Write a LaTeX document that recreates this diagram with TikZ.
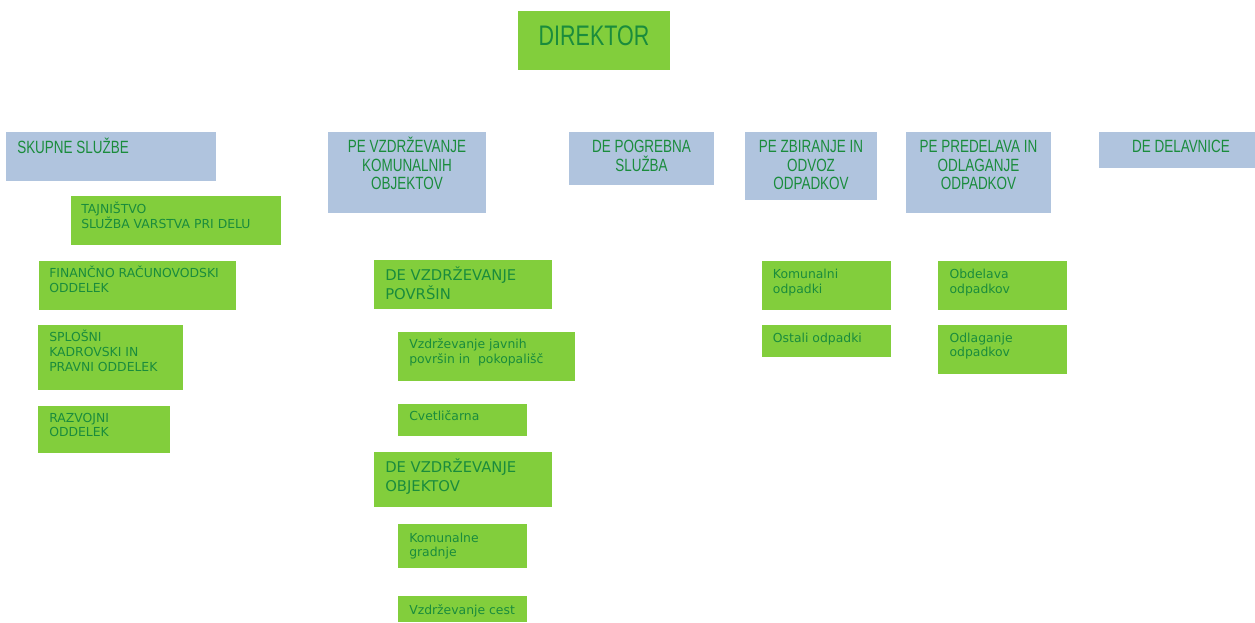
\documentclass[tikz,border=0pt]{standalone}
\usepackage{fontspec}
\setmainfont{DejaVu Sans}
\newfontfamily\headfont[FakeStretch=0.76]{Liberation Sans}
\definecolor{boxgreen}{RGB}{130,206,60}
\definecolor{boxblue}{RGB}{176,196,222}
\definecolor{textgreen}{RGB}{26,140,60}
\tikzset{
  unitbox/.style={fill=boxblue, draw=none},
  deptbox/.style={fill=boxgreen, draw=none},
  headtext/.style={text=textgreen, inner sep=0pt, align=center, font=\headfont\fontsize{13.3}{14.1}\selectfont},
  toptext/.style={text=textgreen, inner sep=0pt, font=\headfont\fontsize{21.2}{22}\selectfont},
  midtext/.style={text=textgreen, inner sep=0pt, align=left, font=\fontsize{11.1}{14.25}\selectfont},
  smalltext/.style={text=textgreen, inner sep=0pt, align=left, font=\fontsize{9.3}{10.9}\selectfont}
}
\begin{document}
\begin{tikzpicture}[x=0.75pt,y=0.75pt,yscale=-1,xscale=1]
\useasboundingbox (0,0) rectangle (1255,622);

%Shape: Rectangle
\draw [deptbox] (518,11) rectangle (670,70);
%Shape: Rectangle
\draw [unitbox] (6,132) rectangle (216,181);
\draw [unitbox] (328,132) rectangle (486,213);
\draw [unitbox] (569,132) rectangle (714,185);
\draw [unitbox] (745,132) rectangle (877,200);
\draw [unitbox] (906,132) rectangle (1051,213);
\draw [unitbox] (1099,132) rectangle (1255,168);
%Shape: Rectangle
\draw [deptbox] (71,196) rectangle (281,245);
\draw [deptbox] (39,261) rectangle (236,310);
\draw [deptbox] (38,325) rectangle (183,390);
\draw [deptbox] (38,406) rectangle (170,453);
%Shape: Rectangle
\draw [deptbox] (374,260) rectangle (552,309);
\draw [deptbox] (398,332) rectangle (575,381);
\draw [deptbox] (398,404) rectangle (527,436);
\draw [deptbox] (374,452) rectangle (552,507);
\draw [deptbox] (398,524) rectangle (527,568);
\draw [deptbox] (398,596) rectangle (527,622);
%Shape: Rectangle
\draw [deptbox] (762,261) rectangle (891,310);
\draw [deptbox] (762,325) rectangle (891,357);
\draw [deptbox] (938,261) rectangle (1067,310);
\draw [deptbox] (938,325) rectangle (1067,374);

% Text Node (base = last line)
\draw (594,45) node [anchor=base][toptext] (direktor) {DIREKTOR};
% Text Node
\draw (17,153.5) node [anchor=base west][headtext] (skupne) {SKUPNE SLUŽBE};
\draw (407,189.9) node [anchor=base][headtext] (pekom) {PE VZDRŽEVANJE\\KOMUNALNIH\\OBJEKTOV};
\draw (641.5,171.1) node [anchor=base][headtext] (pogreb) {DE POGREBNA\\SLUŽBA};
\draw (811,189.9) node [anchor=base][headtext] (zbiranje) {PE ZBIRANJE IN\\ODVOZ\\ODPADKOV};
\draw (978.5,189.9) node [anchor=base][headtext] (predelava) {PE PREDELAVA IN\\ODLAGANJE\\ODPADKOV};
\draw (1181,152.3) node [anchor=base][headtext] (delavnice) {DE DELAVNICE};
% Text Node
\draw (81,228.5) node [anchor=base west][smalltext] (tajnistvo) {TAJNIŠTVO\\SLUŽBA VARSTVA PRI DELU};
\draw (49,292.5) node [anchor=base west][smalltext] (financno) {FINANČNO RAČUNOVODSKI\\ODDELEK};
\draw (49,371) node [anchor=base west][smalltext] (splosni) {SPLOŠNI\\KADROVSKI IN\\PRAVNI ODDELEK};
\draw (49,436.8) node [anchor=base west][smalltext] (razvojni) {RAZVOJNI\\ODDELEK};
% Text Node
\draw (385,299) node [anchor=base west][midtext] (povrsin) {DE VZDRŽEVANJE\\POVRŠIN};
\draw (409,363.5) node [anchor=base west][smalltext] (javnih) {Vzdrževanje javnih\\površin in~~pokopališč};
\draw (409,420.7) node [anchor=base west][smalltext] (cvetlicarna) {Cvetličarna};
\draw (385,491.5) node [anchor=base west][midtext] (objektov) {DE VZDRŽEVANJE\\OBJEKTOV};
\draw (409,556.8) node [anchor=base west][smalltext] (gradnje) {Komunalne\\gradnje};
\draw (409,614) node [anchor=base west][smalltext] (ceste) {Vzdrževanje cest};
% Text Node
\draw (772.7,293.5) node [anchor=base west][smalltext] (komunalni) {Komunalni\\odpadki};
\draw (772.7,342.3) node [anchor=base west][smalltext] (ostali) {Ostali odpadki};
\draw (949.3,293.5) node [anchor=base west][smalltext] (obdelava) {Obdelava\\odpadkov};
\draw (949.3,356.8) node [anchor=base west][smalltext] (odlaganje) {Odlaganje\\odpadkov};

\end{tikzpicture}
\end{document}
